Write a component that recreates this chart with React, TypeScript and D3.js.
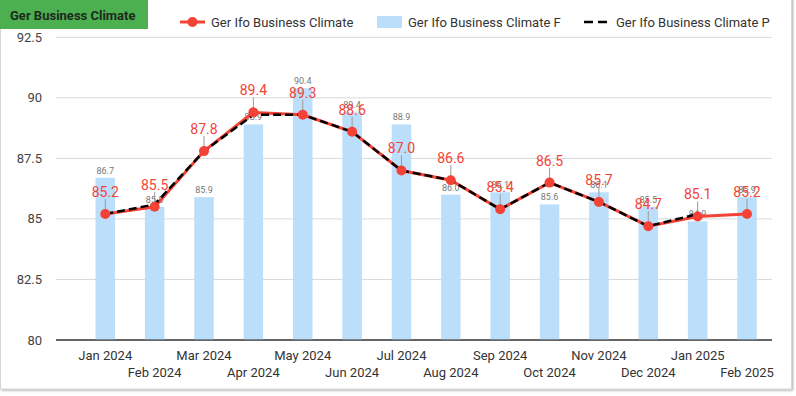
import React, { useRef, useEffect } from "react";
import * as d3 from "d3";

const months = [
  "Jan 2024", "Feb 2024", "Mar 2024", "Apr 2024", "May 2024", "Jun 2024", "Jul 2024",
  "Aug 2024", "Sep 2024", "Oct 2024", "Nov 2024", "Dec 2024", "Jan 2025", "Feb 2025",
];
const climate = [85.2, 85.5, 87.8, 89.4, 89.3, 88.6, 87.0, 86.6, 85.4, 86.5, 85.7, 84.7, 85.1, 85.2];
const forecast = [86.7, 85.5, 85.9, 88.9, 90.4, 89.4, 88.9, 86.0, 86.1, 85.6, 86.1, 85.5, 84.9, 85.9];
const previous: (number | null)[] = [85.2, 85.6, 87.8, 89.3, 89.3, 88.6, 87.0, 86.6, 85.4, 86.5, 85.7, 84.7, 85.2, null];
const yTicks = [80, 82.5, 85, 87.5, 90, 92.5];

const W = 796;
const H = 396;
const FONT = "Roboto, 'Noto Sans', sans-serif";
const RED = "#f44336";

function App() {
  const svgRef = useRef<SVGSVGElement>(null);

  useEffect(() => {
    const svg = d3.select(svgRef.current);
    svg.selectAll("*").remove();

    const left = 56, right = 772;
    const x = d3.scaleBand().domain(months).range([80.6, 771.7]).padding(0);
    const cx = (m: string) => (x(m) as number) + x.bandwidth() / 2;
    const y = d3.scaleLinear().domain([80, 92.5]).range([340, 37.3]);

    // card
    const defs = svg.append("defs");
    const f = defs.append("filter").attr("id", "sh").attr("x", "-5%").attr("y", "-5%").attr("width", "110%").attr("height", "110%");
    f.append("feDropShadow").attr("dx", 1).attr("dy", 1).attr("stdDeviation", 1.2).attr("flood-color", "#000").attr("flood-opacity", 0.35);
    svg.append("rect").attr("x", 0.5).attr("y", -2).attr("width", 791).attr("height", 391)
      .attr("fill", "#fff").attr("stroke", "#d6d6d6").attr("filter", "url(#sh)");

    // title
    svg.append("rect").attr("x", 0).attr("y", 0).attr("width", 148).attr("height", 29).attr("fill", "#4caf50");
    svg.append("text").attr("x", 10).attr("y", 19.5).attr("font-family", FONT).attr("font-size", 13)
      .attr("font-weight", "bold").attr("fill", "#1e2a1e").text("Ger Business Climate");

    // grid + y labels
    const g = svg.append("g");
    yTicks.forEach((t) => {
      g.append("line").attr("x1", left).attr("x2", right).attr("y1", y(t)).attr("y2", y(t))
        .attr("stroke", t === 80 ? "#333" : "#d9d9d9").attr("stroke-width", t === 80 ? 1.2 : 1);
      g.append("text").attr("x", 42).attr("y", y(t)).attr("dy", "0.35em").attr("text-anchor", "end")
        .attr("font-family", FONT).attr("font-size", 13).attr("fill", "#444").text(String(t));
    });

    // bars
    const bw = 19.5;
    g.selectAll(".bar").data(forecast).join("rect").attr("class", "bar")
      .attr("x", (_, i) => cx(months[i]) - bw / 2).attr("width", bw)
      .attr("y", (d) => y(d)).attr("height", (d) => y(80) - y(d)).attr("fill", "#bbdefb");
    g.selectAll(".blab").data(forecast).join("text").attr("class", "blab")
      .attr("x", (_, i) => cx(months[i])).attr("y", (d) => y(d) - 4).attr("text-anchor", "middle")
      .attr("font-family", FONT).attr("font-size", 9).attr("fill", "#777").text((d) => d.toFixed(1));

    // redraw baseline over bars
    g.append("line").attr("x1", left).attr("x2", right).attr("y1", y(80)).attr("y2", y(80)).attr("stroke", "#333").attr("stroke-width", 1.2);

    // x labels
    months.forEach((m, i) => {
      g.append("text").attr("x", cx(m)).attr("y", i % 2 === 0 ? 359.5 : 377).attr("text-anchor", "middle")
        .attr("font-family", FONT).attr("font-size", 13).attr("fill", "#333").text(m);
    });

    // red line
    const ln = d3.line<number>().x((_, i) => cx(months[i])).y((d) => y(d));
    g.append("path").attr("d", ln(climate)).attr("fill", "none").attr("stroke", RED).attr("stroke-width", 3);

    // previous dashed
    const lp = d3.line<number | null>().defined((d) => d !== null).x((_, i) => cx(months[i])).y((d) => y(d as number));
    g.append("path").attr("d", lp(previous)).attr("fill", "none").attr("stroke", "#000").attr("stroke-width", 2.5)
      .attr("stroke-dasharray", "8 4");

    // leaders, dots, labels
    g.selectAll(".lead").data(climate).join("line").attr("class", "lead")
      .attr("x1", (_, i) => cx(months[i])).attr("x2", (_, i) => cx(months[i]))
      .attr("y1", (d) => y(d) - 15).attr("y2", (d) => y(d)).attr("stroke", "#999").attr("stroke-width", 1);
    g.selectAll(".dot").data(climate).join("circle").attr("class", "dot")
      .attr("cx", (_, i) => cx(months[i])).attr("cy", (d) => y(d)).attr("r", 5).attr("fill", RED);
    g.selectAll(".rlab").data(climate).join("text").attr("class", "rlab")
      .attr("x", (_, i) => cx(months[i])).attr("y", (d) => y(d) - 17).attr("text-anchor", "middle")
      .attr("font-family", FONT).attr("font-size", 14).attr("fill", RED).text((d) => d.toFixed(1));

    // legend
    const lg = svg.append("g").attr("font-family", FONT).attr("font-size", 13).attr("fill", "#333");
    lg.append("line").attr("x1", 180).attr("x2", 205).attr("y1", 22).attr("y2", 22).attr("stroke", RED).attr("stroke-width", 3);
    lg.append("circle").attr("cx", 192.5).attr("cy", 22).attr("r", 5).attr("fill", RED);
    lg.append("text").attr("x", 211).attr("y", 26.5).text("Ger Ifo Business Climate");
    lg.append("rect").attr("x", 377).attr("y", 16).attr("width", 25).attr("height", 12).attr("fill", "#bbdefb");
    lg.append("text").attr("x", 408).attr("y", 26.5).text("Ger Ifo Business Climate F");
    lg.append("line").attr("x1", 584).attr("x2", 608).attr("y1", 22).attr("y2", 22).attr("stroke", "#000")
      .attr("stroke-width", 2.5).attr("stroke-dasharray", "9 5");
    lg.append("text").attr("x", 616).attr("y", 26.5).text("Ger Ifo Business Climate P");
  }, []);

  return (
    <div style={{ position: "absolute", left: 0, top: 0, width: W, height: H, background: "#fff" }}>
      <svg ref={svgRef} width={W} height={H} style={{ display: "block" }} />
    </div>
  );
}

export default App;
